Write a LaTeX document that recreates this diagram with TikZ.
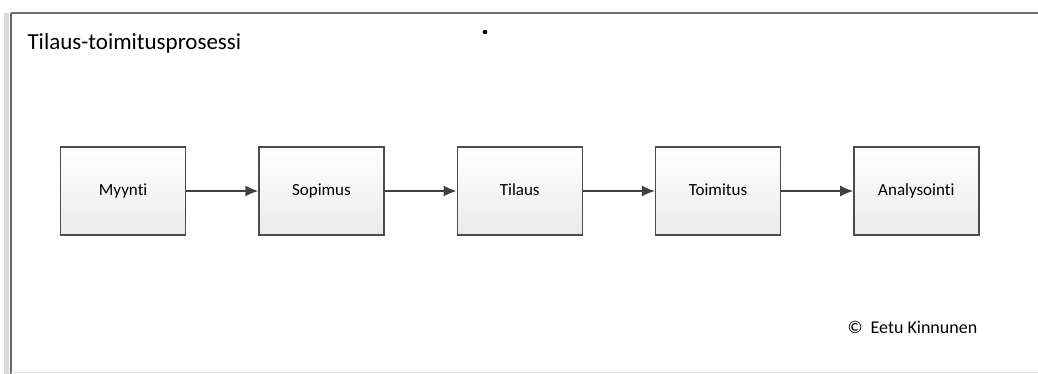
\documentclass[tikz,border=0pt]{standalone}
\usepackage{fontspec}
\setmainfont{Carlito}[Ligatures=NoCommon]
\usetikzlibrary{arrows.meta, positioning, shadings}

\tikzset{
  vaihe/.style={draw=black!70, line width=1.3pt, top color=white, bottom color=black!8,
    minimum width=125pt, minimum height=88pt, inner sep=0pt, text height=12pt, text depth=3pt,
    font=\fontsize{17}{20}\selectfont},
  nuoli/.style={-{Latex[length=13pt, width=11pt]}, draw=black!75, line width=1.6pt}
}

\begin{document}
\begin{tikzpicture}[x=1pt, y=-1pt, node distance=72pt]
  \useasboundingbox (0,0) rectangle (1038,374);
  % kehys
  \fill[blue!20!black!15] (4,13) rectangle (9,374);
  \draw[black!60, line width=2pt] (11,13) -- (11,374);
  \draw[black!55, line width=2pt] (11,13) -- (1038,13);
  \draw[black!12, line width=1pt] (11,372) -- (1038,372);
  \fill (485,32) circle (2.3pt);

  \node[anchor=west, font=\fontsize{23}{28}\selectfont] (otsikko) at (24,43) {Tilaus-toimitusprosessi};

  \node[vaihe, anchor=west] (myynti) at (60,191) {Myynti};
  \node[vaihe, right=of myynti] (sopimus) {Sopimus};
  \node[vaihe, right=of sopimus] (tilaus) {Tilaus};
  \node[vaihe, right=of tilaus] (toimitus) {Toimitus};
  \node[vaihe, right=of toimitus] (analysointi) {Analysointi};

  \foreach \a/\b in {myynti/sopimus, sopimus/tilaus, tilaus/toimitus, toimitus/analysointi}
    \draw[nuoli] (\a) -- (\b);

  \node[anchor=west, font=\fontsize{18}{22}\selectfont] (tekija) at (844,327) {©\ \ Eetu Kinnunen};
\end{tikzpicture}
\end{document}
